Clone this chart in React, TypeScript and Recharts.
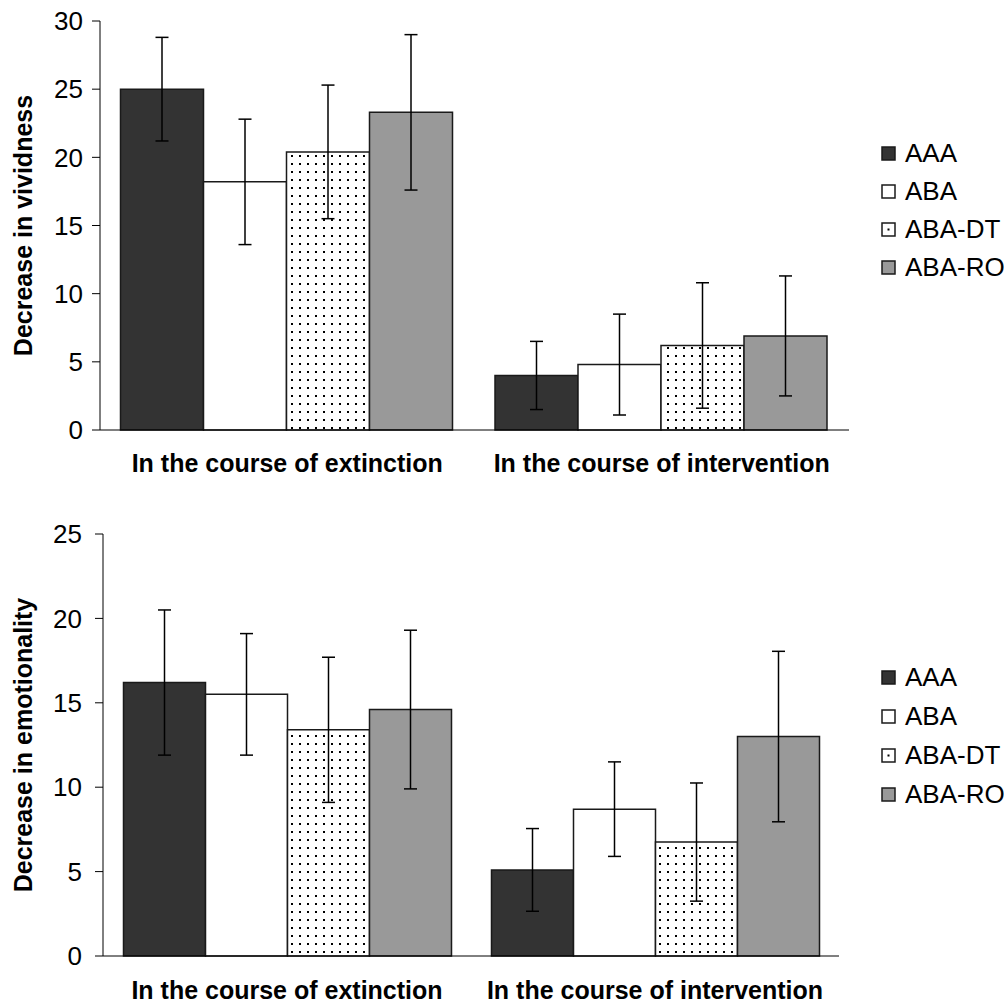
import { BarChart, Bar, XAxis, YAxis, ErrorBar, Legend, Label } from 'recharts'

const categories = ['In the course of extinction', 'In the course of intervention']
const groups = ['AAA', 'ABA', 'ABA-DT', 'ABA-RO']

// decrease in vividness (top panel)
const vividAAA = [25.0, 4.0]
const vividABA = [18.2, 4.8]
const vividDT = [20.4, 6.2]
const vividRO = [23.3, 6.9]
const vividErrAAA = [3.8, 2.5]
const vividErrABA = [4.6, 3.7]
const vividErrDT = [4.9, 4.6]
const vividErrRO = [5.7, 4.4]
const vividTicks = [0, 5, 10, 15, 20, 25, 30]

// decrease in emotionality (bottom panel)
const emoAAA = [16.2, 5.1]
const emoABA = [15.5, 8.7]
const emoDT = [13.4, 6.75]
const emoRO = [14.6, 13.0]
const emoErrAAA = [4.3, 2.45]
const emoErrABA = [3.6, 2.8]
const emoErrDT = [4.3, 3.5]
const emoErrRO = [4.7, 5.05]
const emoTicks = [0, 5, 10, 15, 20, 25]

const font = '"Liberation Sans", Arial, sans-serif'
const fills = ['#333333', '#ffffff', 'dots', '#999999']

const buildRows = (vals: number[][], errs: number[][]) =>
    categories.map((name, i) => {
        const row: Record<string, number | string> = { name }
        groups.forEach((g, k) => {
            row[g] = vals[k][i]
            row[g + '_err'] = errs[k][i]
        })
        return row
    })

const vividRows = buildRows([vividAAA, vividABA, vividDT, vividRO], [vividErrAAA, vividErrABA, vividErrDT, vividErrRO])
const emoRows = buildRows([emoAAA, emoABA, emoDT, emoRO], [emoErrAAA, emoErrABA, emoErrDT, emoErrRO])

function LegendBox({ spacing }: { spacing: number }) {
    return (
        <div style={{ fontFamily: font, fontSize: 26, color: '#000', whiteSpace: 'nowrap' }}>
            {groups.map((g, k) => (
                <div key={g} style={{ display: 'flex', alignItems: 'center', height: spacing }}>
                    <svg width={15} height={15} style={{ marginRight: 9, flexShrink: 0 }}>
                        <rect x={1} y={1} width={13} height={13} fill={fills[k] === 'dots' ? '#fff' : fills[k]} stroke="#1a1a1a" strokeWidth={1.5} />
                        {fills[k] === 'dots' && <rect x={6.5} y={6.5} width={2} height={2} fill="#000" />}
                    </svg>
                    <span>{g}</span>
                </div>
            ))}
        </div>
    )
}

function Panel({ rows, ticks, title, id, yWidth, right, top, chartHeight, catHeight, bottom, tickMargin, yTickMargin, legendTop, spacing }: any) {
    const max = ticks[ticks.length - 1]
    return (
        <BarChart
            width={1004}
            height={chartHeight}
            data={rows}
            margin={{ top, right, left: 0, bottom }}
            barGap={0}
            barCategoryGap={20.5}
        >
            <defs>
                <pattern id={id} patternUnits="userSpaceOnUse" width={8} height={8}>
                    <rect width={8} height={8} fill="#fff" />
                    <rect x={3} y={3} width={2} height={2} fill="#000" />
                </pattern>
            </defs>
            <XAxis
                xAxisId="b_cat"
                dataKey="name"
                axisLine={false}
                tickLine={false}
                tickSize={0}
                tickMargin={tickMargin}
                height={catHeight}
                interval={0}
                tick={{ fill: '#000', fontSize: 25, fontWeight: 'bold', fontFamily: font }}
            />
            <XAxis
                xAxisId="a_frame"
                type="number"
                domain={[0, 2]}
                ticks={[0, 1, 2]}
                interval={0}
                tick={false}
                tickSize={8}
                height={10}
                axisLine={{ stroke: '#000' }}
                tickLine={{ stroke: '#000' }}
            />
            <YAxis
                width={yWidth}
                domain={[0, max]}
                ticks={ticks}
                interval={0}
                tickSize={8}
                tickMargin={yTickMargin}
                axisLine={{ stroke: '#000' }}
                tickLine={{ stroke: '#000' }}
                tick={{ fill: '#000', fontSize: 26, fontFamily: font }}
            >
                <Label
                    content={({ viewBox }: any) => {
                        const cx = viewBox.x + 23
                        const cy = viewBox.y + viewBox.height / 2
                        return (
                            <text
                                x={cx}
                                y={cy}
                                transform={`rotate(-90, ${cx}, ${cy})`}
                                textAnchor="middle"
                                dominantBaseline="central"
                                fontWeight="bold"
                                fontSize={25}
                                fontFamily={font}
                                fill="#000"
                            >
                                {title}
                            </text>
                        )
                    }}
                />
            </YAxis>
            <Legend
                layout="vertical"
                align="center"
                verticalAlign="middle"
                wrapperStyle={{ left: 881, top: legendTop, width: 123 }}
                content={() => <LegendBox spacing={spacing} />}
            />
            {groups.map((g, k) => (
                <Bar
                    key={g}
                    xAxisId="b_cat"
                    dataKey={g}
                    name={g}
                    fill={fills[k] === 'dots' ? `url(#${id})` : fills[k]}
                    stroke="#1a1a1a"
                    strokeWidth={1.5}
                    isAnimationActive={false}
                >
                    <ErrorBar dataKey={g + '_err'} width={6.5} stroke="#000" strokeWidth={1.5} direction="y" />
                </Bar>
            ))}
        </BarChart>
    )
}

export default function App() {
    return (
        <div style={{ position: 'absolute', left: 0, top: 0, width: 1004, height: 1008, background: '#fff' }}>
            <div style={{ position: 'absolute', left: 0, top: 0 }}>
                <Panel
                    rows={vividRows}
                    ticks={vividTicks}
                    title="Decrease in vividness"
                    id="dotsTop"
                    yWidth={100}
                    right={155}
                    top={21}
                    chartHeight={500}
                    catHeight={50}
                    bottom={10}
                    tickMargin={14}
                    yTickMargin={9}
                    legendTop={134}
                    spacing={38}
                />
            </div>
            <div style={{ position: 'absolute', left: 0, top: 500 }}>
                <Panel
                    rows={emoRows}
                    ticks={emoTicks}
                    title="Decrease in emotionality"
                    id="dotsBottom"
                    yWidth={103}
                    right={165}
                    top={34}
                    chartHeight={508}
                    catHeight={42}
                    bottom={0}
                    tickMargin={15}
                    yTickMargin={13}
                    legendTop={158}
                    spacing={39}
                />
            </div>
        </div>
    )
}
